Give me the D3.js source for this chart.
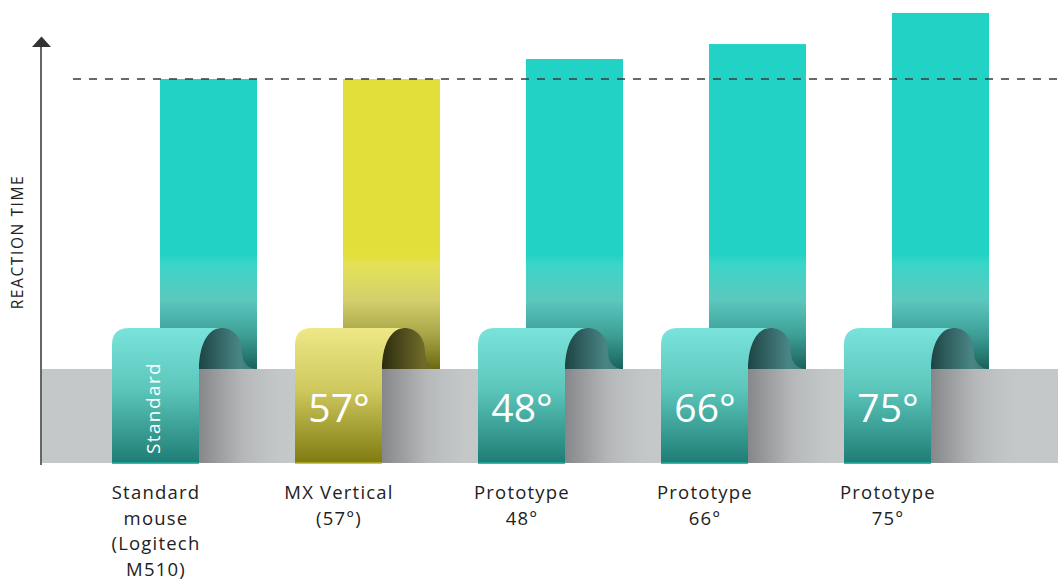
<!DOCTYPE html>
<html><head><meta charset="utf-8">
<script src="https://cdn.jsdelivr.net/npm/d3@7"></script>
<style>body{margin:0;background:#fff}svg{display:block}text{font-family:"Open Sans",Lato,sans-serif}</style>
</head><body><svg id="c" width="1058" height="584"></svg>
<script>
const categories = ["Standard mouse (Logitech M510)", "MX Vertical (57°)", "Prototype 48°", "Prototype 66°", "Prototype 75°"];
const labelLines = [["Standard","mouse","(Logitech","M510)"],["MX Vertical","(57°)"],["Prototype","48°"],["Prototype","66°"],["Prototype","75°"]];
const ribbonText = ["Standard","57°","48°","66°","75°"];
const reactionTime = [100, 100, 105.2, 109.1, 117.2];
const highlight = [false, true, false, false, false];
const reference = 100;

const svg = d3.select("#c");
const W = 1058;
const y = d3.scaleLinear().domain([0, 100]).range([463, 79]);
const x = d3.scaleBand().domain(categories).range([160, 989]).paddingInner(86/183).paddingOuter(0);
const bandTop = 369, bandBot = 463;

const defs = svg.append("defs");
function vgrad(id, stops, y1, y2){
  const g = defs.append("linearGradient").attr("id", id).attr("gradientUnits","userSpaceOnUse")
    .attr("x1",0).attr("x2",0).attr("y1",y1).attr("y2",y2);
  stops.forEach(s=>g.append("stop").attr("offset",s[0]).attr("stop-color",s[1]));
}
function hgrad(id, stops){
  const g = defs.append("linearGradient").attr("id", id).attr("x1",0).attr("x2",1).attr("y1",0).attr("y2",0);
  stops.forEach(s=>g.append("stop").attr("offset",s[0]).attr("stop-color",s[1]).attr("stop-opacity", s[2]===undefined?1:s[2]));
}
const yt = (v)=> (v-13)/356;
vgrad("barT", [[0,"#22d3c5"],[yt(255),"#22d3c5"],[yt(264),"#3ad6c8"],[yt(300),"#5cc8be"],[yt(335),"#3d9f96"],[1,"#19625b"]], 13, 369);
vgrad("barY", [[0,"#e3df3a"],[yt(255),"#e3df3a"],[yt(264),"#e5e256"],[yt(300),"#d3cf6c"],[yt(335),"#a8a548"],[1,"#6b690f"]], 13, 369);
vgrad("panT", [[0,"#7ae4dc"],[0.45,"#5cc6bb"],[1,"#1d7c73"]], 328, 464);
vgrad("panY", [[0,"#eee886"],[0.45,"#cfc95f"],[1,"#7e7a10"]], 328, 464);
hgrad("curlT", [[0,"#1e4444"],[0.7,"#4a8585"],[1,"#3f7a78"]]);
hgrad("curlY", [[0,"#2c2c0e"],[0.7,"#6e6a2a"],[1,"#6a6620"]]);
hgrad("shadow", [[0,"#86878a",1],[0.45,"#b4b6b7",1],[1,"#c4c8c8",0]]);

svg.append("rect").attr("x",41).attr("y",bandTop).attr("width",W-41).attr("height",bandBot-bandTop).attr("fill","#c4c8c8");

const g = svg.append("g");
categories.forEach((c,i)=>{
  const L = x(c), bw = x.bandwidth();
  g.append("rect").attr("x",L).attr("y",y(reactionTime[i])).attr("width",bw).attr("height",bandTop - y(reactionTime[i]))
    .attr("fill", highlight[i] ? "url(#barY)" : "url(#barT)");
  g.append("rect").attr("x",L+39).attr("y",bandTop).attr("width",95).attr("height",bandBot-bandTop).attr("fill","url(#shadow)");
  g.append("path").attr("d",`M${L+39},${bandTop} C${L+39},345 ${L+48},328 ${L+61},328 C${L+74},328 ${L+82},338 ${L+82},352 C${L+82},362 ${L+88},${bandTop} ${L+bw},${bandTop} Z`)
    .attr("fill", highlight[i] ? "url(#curlY)" : "url(#curlT)");
  g.append("path").attr("d",`M${L-48},464 L${L-48},345 Q${L-48},328 ${L-31},328 L${L+61},328 C${L+48},328 ${L+39},345 ${L+39},${bandTop} L${L+39},464 Z`)
    .attr("fill", highlight[i] ? "url(#panY)" : "url(#panT)");
  g.append("rect").attr("x",L-48).attr("y",462.5).attr("width",87).attr("height",1.5).attr("fill", highlight[i] ? "#e3df3a" : "#22d3c5").attr("opacity",0.8);
  const cx = L - 4;
  if (i === 0) {
    g.append("text").attr("transform",`translate(${L-7},408) rotate(-90)`).attr("text-anchor","middle")
      .attr("dy","0.36em").attr("fill","#fff").attr("font-size",19).attr("letter-spacing",1.4).text(ribbonText[i]);
  } else {
    g.append("text").attr("x",cx).attr("y",422).attr("text-anchor","middle").attr("fill","#fff")
      .attr("font-size",39).text(ribbonText[i]);
  }
  const t = g.append("text").attr("text-anchor","middle").attr("fill","#222").attr("font-size",18.5).attr("letter-spacing",1.2);
  labelLines[i].forEach((ln,j)=>t.append("tspan").attr("x",cx).attr("y",499 + j*25.7).text(ln));
});

svg.append("line").attr("x1",73).attr("x2",W).attr("y1",y(reference)).attr("y2",y(reference))
  .attr("stroke","#3a3a3a").attr("stroke-width",1.6).attr("stroke-dasharray","8,8");

svg.append("line").attr("x1",41).attr("x2",41).attr("y1",465).attr("y2",46).attr("stroke","#666").attr("stroke-width",2);
svg.append("path").attr("d","M32,47 L51,47 L41.5,36.5 Z").attr("fill","#333");
svg.append("text").attr("transform","translate(23,242) rotate(-90)").attr("text-anchor","middle")
  .attr("fill","#222").attr("font-size",15.5).attr("letter-spacing",1.6).text("REACTION TIME");
</script></body></html>
